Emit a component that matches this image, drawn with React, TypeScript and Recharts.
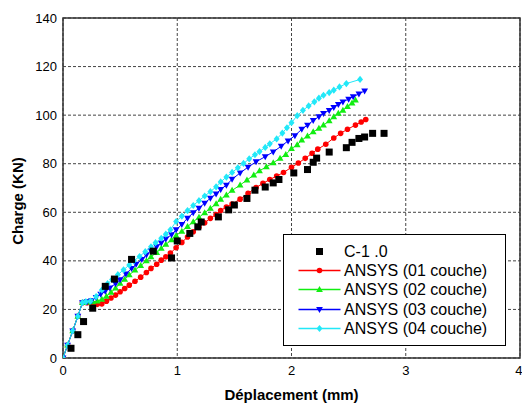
import {
  ScatterChart,
  Scatter,
  XAxis,
  YAxis,
  CartesianGrid,
  ReferenceArea,
  Legend,
} from "recharts";

type Pt = { x: number; y: number };
type Kind = "square" | "circle" | "up" | "down" | "diamond";

const xTicks = [0, 1, 2, 3, 4];
const yTicks = [0, 20, 40, 60, 80, 100, 120, 140];

// elastic part, common to the 4 ANSYS models
const initialSegment = [
  [0, 0], [0.04, 5.3], [0.085, 11.2], [0.13, 17.2], [0.17, 22.8],
];

const essaiC10 = [
  [0.07, 4], [0.13, 9.6], [0.18, 15], [0.26, 20.5], [0.37, 29.5], [0.45, 32.5],
  [0.6, 40.6], [0.79, 44], [0.95, 41.2], [1.0, 48.2], [1.11, 51.3], [1.18, 54],
  [1.21, 56], [1.36, 58.1], [1.45, 61], [1.5, 63], [1.61, 65.7], [1.68, 69.1],
  [1.77, 70.4], [1.84, 72.1], [1.89, 73.5], [2.02, 76.2], [2.14, 77.6],
  [2.19, 80.6], [2.22, 82.3], [2.33, 84.8], [2.48, 86.6], [2.53, 88.8],
  [2.59, 90.4], [2.64, 91], [2.71, 92.5], [2.81, 92.5],
];

const ansys01 = [
  [0.21, 22.8], [0.26, 22.5], [0.3, 22.1], [0.34, 22.3], [0.38, 23.4], [0.42, 24.7],
  [0.46, 25.9], [0.5, 27.3], [0.54, 28.6], [0.58, 30], [0.63, 31.6], [0.68, 33.3],
  [0.73, 35.2], [0.77, 36.9], [0.82, 38.6], [0.86, 40.3], [0.9, 41.7], [0.94, 43.2],
  [0.99, 45.4], [1.04, 47.6], [1.09, 49.8], [1.14, 52], [1.19, 53.8], [1.24, 55.7],
  [1.29, 57.5], [1.34, 59.1], [1.38, 60.7], [1.43, 62.2], [1.48, 63.4], [1.55, 65.4],
  [1.62, 67.8], [1.69, 70.2], [1.75, 71.9], [1.81, 73.5], [1.87, 74.9], [1.93, 76.4],
  [2.0, 78.5], [2.06, 80.3], [2.12, 82.2], [2.18, 84.3], [2.23, 86], [2.3, 88],
  [2.37, 90.6], [2.43, 92.5], [2.49, 94.2], [2.56, 95.9], [2.61, 97.2], [2.65, 98.2],
];

const ansys02 = [
  [0.22, 23], [0.26, 23.1], [0.3, 23.4], [0.34, 24.2], [0.38, 25.4], [0.42, 27],
  [0.46, 28.8], [0.5, 30.7], [0.54, 32.4], [0.58, 34.2], [0.63, 36.2], [0.68, 38],
  [0.73, 40], [0.77, 41.7], [0.82, 43.4], [0.86, 45.1], [0.9, 46.8], [0.95, 48.6],
  [0.99, 50.4], [1.04, 52.2], [1.09, 54.1], [1.14, 56.1], [1.19, 57.9], [1.24, 59.8],
  [1.29, 61.6], [1.34, 63.5], [1.38, 65.3], [1.43, 67.1], [1.48, 69], [1.55, 71.2],
  [1.61, 73.3], [1.67, 75.3], [1.72, 77.1], [1.78, 78.7], [1.84, 80.4], [1.9, 82.2],
  [1.95, 83.8], [2.0, 86.2], [2.05, 87.8], [2.09, 89.7], [2.14, 91.4], [2.19, 93.1],
  [2.24, 94.6], [2.28, 95.9], [2.33, 97.6], [2.37, 99.3], [2.41, 100.7], [2.45, 102],
  [2.49, 103.5], [2.53, 105], [2.56, 106.2],
];

const ansys03 = [
  [0.21, 23.2], [0.25, 23.6], [0.29, 25], [0.33, 26.3], [0.37, 27.5], [0.41, 28.9],
  [0.46, 30.6], [0.5, 32.3], [0.55, 34.6], [0.6, 36.9], [0.64, 38.6], [0.69, 40.6],
  [0.73, 42.5], [0.77, 44.2], [0.82, 45.8], [0.86, 47.4], [0.9, 49], [0.95, 50.8],
  [0.99, 52.8], [1.04, 55], [1.09, 57.6], [1.14, 59.8], [1.19, 61.7], [1.24, 63.8],
  [1.29, 65.8], [1.34, 67.6], [1.38, 69.4], [1.43, 71.2], [1.48, 73.6], [1.55, 76.2],
  [1.62, 78.6], [1.69, 80.8], [1.77, 82.9], [1.84, 84.9], [1.91, 87.2], [1.97, 89.4],
  [2.03, 91.6], [2.09, 94.2], [2.14, 95.9], [2.19, 97.8], [2.24, 99.4], [2.28, 100.7],
  [2.33, 102], [2.37, 103.2], [2.41, 104.4], [2.45, 105.5], [2.5, 106.6], [2.54, 107.6],
  [2.59, 108.7], [2.64, 110],
];

const ansys04 = [
  [0.2, 23.2], [0.24, 23.4], [0.29, 25.3], [0.34, 28], [0.39, 30.6], [0.43, 32.3],
  [0.48, 34.3], [0.53, 36.3], [0.58, 38.3], [0.62, 40], [0.67, 41.8], [0.72, 43.8],
  [0.77, 45.8], [0.81, 47.5], [0.86, 49.3], [0.9, 51], [0.94, 52.8], [0.99, 56.2],
  [1.04, 58.4], [1.09, 60.7], [1.14, 62.8], [1.19, 64.8], [1.24, 66.7], [1.29, 68.5],
  [1.34, 70.5], [1.38, 72.5], [1.43, 74.5], [1.48, 76.4], [1.53, 78.3], [1.58, 80.1],
  [1.63, 82], [1.68, 83.7], [1.72, 85], [1.77, 86.7], [1.81, 88.2], [1.87, 90.2],
  [1.92, 92.6], [1.96, 94.8], [2.0, 96.9], [2.05, 99.8], [2.1, 102], [2.15, 103.8],
  [2.2, 105.5], [2.24, 107], [2.28, 108.2], [2.33, 109.3], [2.37, 110.3], [2.42, 111.6],
  [2.48, 113], [2.6, 114.7],
];

const toPts = (rows: number[][]): Pt[] => rows.map(([x, y]) => ({ x, y }));

const series = [
  { name: "ANSYS (01 couche)", color: "#ff0000", kind: "circle" as Kind, data: toPts([...initialSegment, ...ansys01]) },
  { name: "ANSYS (02 couche)", color: "#11ee11", kind: "up" as Kind, data: toPts([...initialSegment, ...ansys02]) },
  { name: "ANSYS (03 couche)", color: "#0000ff", kind: "down" as Kind, data: toPts([...initialSegment, ...ansys03]) },
  { name: "ANSYS (04 couche)", color: "#22e8f8", kind: "diamond" as Kind, data: toPts([...initialSegment, ...ansys04]) },
];
const essai = { name: "C-1 .0", color: "#000000", kind: "square" as Kind, data: toPts(essaiC10) };

function Marker({ cx, cy, kind, color }: { cx: number; cy: number; kind: Kind; color: string }) {
  if (cx == null || cy == null) return null;
  switch (kind) {
    case "square":
      return <rect x={cx - 3.5} y={cy - 3.5} width={7} height={7} fill={color} />;
    case "circle":
      return <circle cx={cx} cy={cy} r={2.8} fill={color} />;
    case "up":
      return <path d={`M${cx},${cy - 3.6}L${cx + 3.4},${cy + 2.4}L${cx - 3.4},${cy + 2.4}Z`} fill={color} />;
    case "down":
      return <path d={`M${cx},${cy + 3.6}L${cx + 3.4},${cy - 2.4}L${cx - 3.4},${cy - 2.4}Z`} fill={color} />;
    default:
      return <path d={`M${cx},${cy - 3.6}L${cx + 3},${cy}L${cx},${cy + 3.6}L${cx - 3},${cy}Z`} fill={color} />;
  }
}

function LegendBox() {
  const rows = [essai, ...series];
  return (
    <div
      style={{
        width: 223,
        height: 112,
        boxSizing: "border-box",
        border: "1.5px solid #000",
        background: "#fff",
        paddingTop: 7,
        fontSize: 16,
        color: "#000",
      }}
    >
      {rows.map((s) => (
        <div key={s.name} style={{ display: "flex", alignItems: "center", height: 19.2 }}>
          <svg width={60} height={19} style={{ display: "block", flex: "none" }}>
            {s.kind !== "square" && (
              <line x1={14.5} x2={56.5} y1={9.5} y2={9.5} stroke={s.color} strokeWidth={1.3} />
            )}
            <Marker cx={35.5} cy={9.5} kind={s.kind} color={s.color} />
          </svg>
          <span style={{ lineHeight: "19px", whiteSpace: "nowrap" }}>{s.name}</span>
        </div>
      ))}
    </div>
  );
}

export default function App() {
  return (
    <div
      style={{
        position: "absolute",
        left: 0,
        top: 0,
        width: 522,
        height: 405,
        background: "#fff",
        fontFamily: "'Liberation Sans', Arial, sans-serif",
      }}
    >
      <ScatterChart width={522} height={405} margin={{ top: 18, right: 2, bottom: 0, left: 0 }}>
        <CartesianGrid stroke="#444" strokeDasharray="3 2" strokeWidth={1} />
        <XAxis
          type="number"
          dataKey="x"
          domain={[0, 4]}
          ticks={xTicks}
          height={47}
          tickLine={false}
          axisLine={false}
          tickSize={4}
          tickMargin={4}
          tick={{ fontSize: 13, fill: "#000" }}
          allowDataOverflow
          label={{
            value: "Déplacement (mm)",
            position: "insideBottom",
            offset: 5,
            style: { fontSize: 15, fontWeight: "bold", fill: "#000" },
          }}
        />
        <YAxis
          type="number"
          dataKey="y"
          domain={[0, 140]}
          ticks={yTicks}
          width={63}
          tickLine={false}
          axisLine={false}
          tickSize={4}
          tickMargin={2}
          tick={{ fontSize: 13, fill: "#000" }}
          allowDataOverflow
          label={{
            content: (p: any) => {
              const vb = p.viewBox || { x: 0, y: 18, width: 63, height: 340 };
              const x = vb.x + 17;
              const y = vb.y + vb.height / 2 + 13;
              return (
                <text
                  x={x}
                  y={y}
                  transform={`rotate(-90, ${x}, ${y})`}
                  textAnchor="middle"
                  dominantBaseline="central"
                  fontSize={15}
                  fontWeight="bold"
                  fill="#000"
                >
                  Charge (KN)
                </text>
              );
            },
          }}
        />
        <ReferenceArea x1={0} x2={4} y1={0} y2={140} fill="none" stroke="#333" strokeWidth={1.5} />
        {series.map((s) => (
          <Scatter
            key={s.name}
            name={s.name}
            data={s.data}
            fill={s.color}
            line={{ stroke: s.color, strokeWidth: 1 }}
            lineType="joint"
            isAnimationActive={false}
            shape={(p: any) => <Marker cx={p.cx} cy={p.cy} kind={s.kind} color={s.color} />}
          />
        ))}
        <Scatter
          name={essai.name}
          data={essai.data}
          fill={essai.color}
          isAnimationActive={false}
          shape={(p: any) => <Marker cx={p.cx} cy={p.cy} kind="square" color={essai.color} />}
        />
        <Legend
          layout="vertical"
          align="center"
          verticalAlign="middle"
          content={() => <LegendBox />}
          wrapperStyle={{ left: 283, top: 234, width: 223, height: 112 }}
        />
      </ScatterChart>
    </div>
  );
}
